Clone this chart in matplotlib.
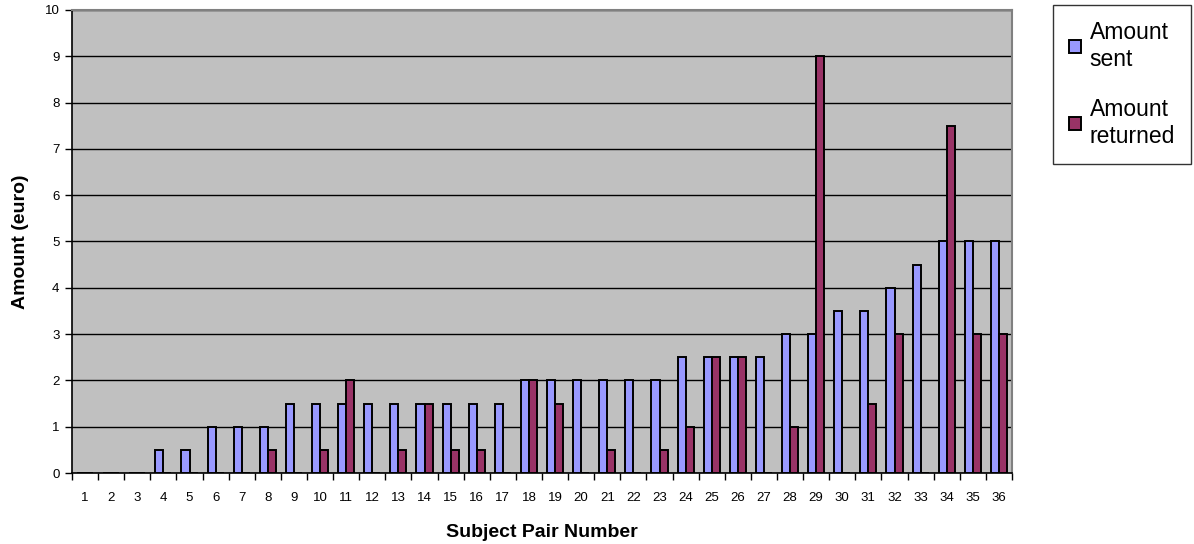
import matplotlib
matplotlib.use("Agg")
import matplotlib.pyplot as plt
import numpy as np
from matplotlib.patches import Patch

plt.rcParams['font.family'] = ['Liberation Sans', 'DejaVu Sans']

pairs = list(range(1, 37))
sent = [0, 0, 0, 0.5, 0.5, 1, 1, 1, 1.5, 1.5, 1.5, 1.5, 1.5, 1.5, 1.5, 1.5, 1.5, 2,
        2, 2, 2, 2, 2, 2.5, 2.5, 2.5, 2.5, 3, 3, 3.5, 3.5, 4, 4.5, 5, 5, 5]
returned = [0, 0, 0, 0, 0, 0, 0, 0.5, 0, 0.5, 2, 0, 0.5, 1.5, 0.5, 0.5, 0, 2,
            1.5, 0, 0.5, 0, 0.5, 1, 2.5, 2.5, 0, 1, 9, 0, 1.5, 3, 0, 7.5, 3, 3]

fig = plt.figure(figsize=(11.94, 5.44), dpi=100)
ax = fig.add_axes([72/1194, 1 - 473/544, (1012-72)/1194, (473-10)/544])
ax.set_facecolor('#C0C0C0')

x = np.array(pairs)
w = 0.31
ax.bar(x - w/2, sent, w, color='#9999FF', edgecolor='black', linewidth=1.4, zorder=3)
ax.bar(x + w/2, returned, w, color='#993366', edgecolor='black', linewidth=1.4, zorder=3)

ax.set_xlim(0.5, 36.5)
ax.set_ylim(0, 10)
ax.set_yticks(range(0, 11))
ax.yaxis.grid(True, color='black', linewidth=1, zorder=1)
ax.set_axisbelow(True)

# labels at centres, tick marks between categories
ax.set_xticks(x)
ax.set_xticklabels([str(p) for p in pairs], fontsize=9.5)
ax.set_xticks(np.arange(0.5, 37, 1), minor=True)
ax.tick_params(axis='x', which='major', length=0, pad=14)
ax.tick_params(axis='x', which='minor', length=5, width=1, direction='out')
ax.tick_params(axis='y', length=5, width=1, direction='out', labelsize=9.5, pad=4)

for s in ['left', 'bottom']:
    ax.spines[s].set_color('black')
    ax.spines[s].set_linewidth(1.2)
for s in ['top', 'right']:
    ax.spines[s].set_color('#808080')
    ax.spines[s].set_linewidth(1.5)

ax.set_xlabel('Subject Pair Number', fontsize=14, fontweight='bold', labelpad=14)
ax.set_ylabel('Amount (euro)', fontsize=14, fontweight='bold', labelpad=11)

handles = [Patch(facecolor='#9999FF', edgecolor='black', linewidth=1.4),
           Patch(facecolor='#993366', edgecolor='black', linewidth=1.4)]
leg = fig.legend(handles, ['Amount\nsent', 'Amount\nreturned'],
                 loc='upper left', bbox_to_anchor=(1053/1194, 1 - 5/544),
                 fontsize=16.5, frameon=True, fancybox=False, edgecolor='black',
                 handlelength=0.5, handleheight=0.5, handletextpad=0.4,
                 labelspacing=1.2, borderpad=0.7, borderaxespad=0)
leg.get_frame().set_linewidth(1)

fig.savefig('out.png', dpi=100)
